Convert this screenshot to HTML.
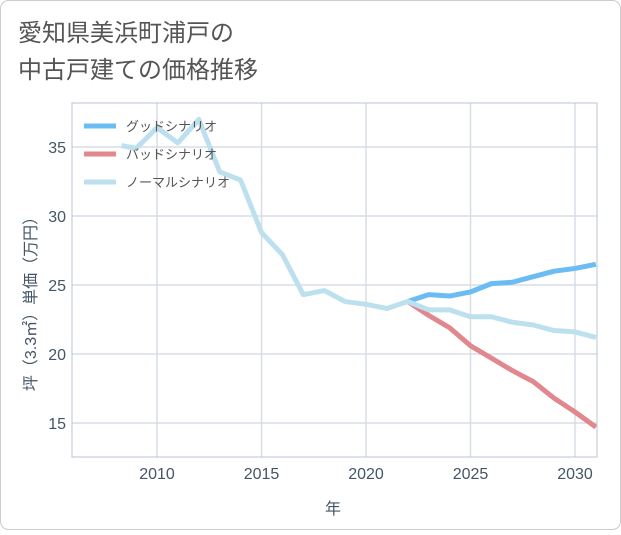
<!DOCTYPE html>
<html><head><meta charset="utf-8"><style>
body{margin:0;background:#fff;font-family:"Liberation Sans","Noto Sans CJK JP",sans-serif;}
</style></head><body>
<svg width="621" height="530" xmlns="http://www.w3.org/2000/svg" font-family="Liberation Sans, Noto Sans CJK JP, sans-serif">
<rect x="0.5" y="0.5" width="620" height="529" rx="8" fill="#fff" stroke="#ccc"/>
<text x="18" y="41" font-size="24" fill="#555">愛知県美浜町浦戸の</text>
<text x="18" y="78" font-size="24" fill="#555">中古戸建ての価格推移</text>
<g id="grid"></g><g id="lines"></g><g id="axes"></g>
<text transform="translate(36,300) rotate(-90)" text-anchor="middle" font-size="16" fill="#456">坪（3.3㎡）単価（万円）</text>
<text x="333" y="514" text-anchor="middle" font-size="16" fill="#456">年</text>
<g>
<line x1="84" y1="126" x2="116" y2="126" stroke="#6bbcf2" stroke-width="5"/>
<text x="126" y="131" font-size="13" fill="#555">グッドシナリオ</text>
<line x1="84" y1="154" x2="116" y2="154" stroke="#e0888e" stroke-width="5"/>
<text x="126" y="159" font-size="13" fill="#555">バッドシナリオ</text>
<line x1="84" y1="182" x2="116" y2="182" stroke="#bde0ef" stroke-width="5"/>
<text x="126" y="187" font-size="13" fill="#555">ノーマルシナリオ</text>
</g>
</svg>
<script>
const xTicks=[2010,2015,2020,2025,2030];
const yTicks=[15,20,25,30,35];
const normalYears=[2008.3,2009,2010,2011,2012,2013,2014,2015,2016,2017,2018,2019,2020,2021,2022,2023,2024,2025,2026,2027,2028,2029,2030,2031];
const normalValues=[35.1,34.9,36.4,35.3,37.0,33.2,32.6,28.8,27.2,24.3,24.6,23.8,23.6,23.3,23.8,23.2,23.2,22.7,22.7,22.3,22.1,21.7,21.6,21.2];
const scenYears=[2022,2023,2024,2025,2026,2027,2028,2029,2030,2031];
const goodValues=[23.8,24.3,24.2,24.5,25.1,25.2,25.6,26.0,26.2,26.5];
const badValues=[23.8,22.8,21.9,20.6,19.7,18.8,18.0,16.8,15.8,14.7];
const L=72,R=597,T=103,B=457;
const X=y=>157+(y-2010)*20.9;
const Y=v=>285-(v-25)*13.8;
const NS="http://www.w3.org/2000/svg";
function mk(t,a,p){const e=document.createElementNS(NS,t);for(const k in a)e.setAttribute(k,a[k]);p.appendChild(e);return e;}
const g=document.getElementById('grid'),ln=document.getElementById('lines'),ax=document.getElementById('axes');
xTicks.forEach(t=>{const l=mk('line',{x1:X(t),x2:X(t),y1:T,y2:B,stroke:'#d5dde5','stroke-width':1.5},g);

const tx=mk('text',{x:X(t),y:479,'text-anchor':'middle','font-size':16,fill:'#456'},ax);tx.textContent=t;
});
yTicks.forEach(t=>{const l=mk('line',{x1:L,x2:R,y1:Y(t),y2:Y(t),stroke:'#d5dde5','stroke-width':1.5},g);

const tx=mk('text',{x:66,y:Y(t)+6,'text-anchor':'end','font-size':16,fill:'#456'},ax);tx.textContent=t;
});
const fr=mk('rect',{x:L,y:T,width:R-L,height:B-T,fill:'none',stroke:'#b8c4d0','stroke-width':1},ax);

function line(xs,vs,c,n){const p=mk('polyline',{points:xs.map((x,i)=>X(x)+','+Y(vs[i])).join(' '),fill:'none',stroke:c,'stroke-width':5,'stroke-linejoin':'round'},ln);
}
line(scenYears,badValues,'#e0888e','bad-line');
line(scenYears,goodValues,'#6bbcf2','good-line');
line(normalYears,normalValues,'#bde0ef','normal-line');
</script>
</body></html>
